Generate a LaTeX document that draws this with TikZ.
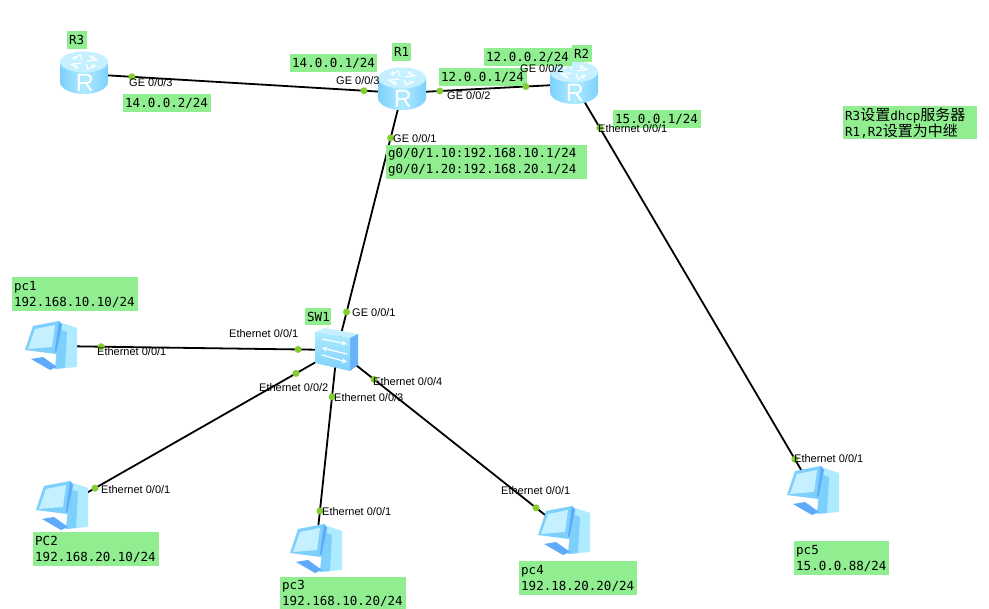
\documentclass[tikz,border=0pt]{standalone}
\usepackage{fontspec}
\setsansfont{Liberation Sans}
\setmonofont{DejaVu Sans Mono}
\newfontfamily\cjk{Noto Sans CJK SC}
\usetikzlibrary{positioning}
\usetikzlibrary{arrows}
\definecolor{boxgreen}{RGB}{144,238,144}
\definecolor{portgreen}{RGB}{132,204,50}
\definecolor{iconedge}{RGB}{125,208,252}
\definecolor{iconmid}{RGB}{175,235,255}
\definecolor{icontop}{RGB}{196,240,255}
\definecolor{icondark}{RGB}{95,170,250}
\tikzset{
  link/.style={line width=1.8pt, black},
  portdot/.style={circle, fill=portgreen, inner sep=0pt, minimum size=7pt},
  port/.style={anchor=west, inner sep=0pt, font=\sffamily\fontsize{11}{12}\selectfont},
  addr/.style 2 args={anchor=north west, fill=boxgreen, inner xsep=2pt, inner ysep=0pt,
    text width=#1pt-4pt, minimum height=#2pt, align=left,
    font=\ttfamily\fontsize{12.5}{16}\selectfont},
  pics/routericon/.style={code={
    \path[left color=iconedge, right color=iconedge, middle color=iconmid]
      (-24,-12) -- (-24,8) arc[start angle=180, end angle=0, x radius=24, y radius=12]
      -- (24,-12) -- cycle;
    \path[fill=icontop] (0,-12) ellipse[x radius=24, y radius=10.5];
    \foreach \a in {0,90,180,270}
      \draw[white, line width=1.2pt, ->, >=stealth, shift={(0,-12)}, yscale=.55, rotate=\a]
        (2,3) -- (4,13) -- (12,5);
    \node[white, font=\sffamily\fontsize{25}{25}\selectfont, inner sep=0pt] at (1,9) {R};
  }},
  pics/switchicon/.style={code={
    \path[fill=icontop] (-22,-18) -- (-12,-22) -- (21,-16) -- (13,-12) -- cycle;
    \path[fill=icondark!75!iconedge] (13,-12) -- (21,-16) -- (21,15) -- (13,21) -- cycle;
    \path[top color=iconmid, bottom color=iconedge] (-22,-18) -- (13,-12) -- (13,21) -- (-22,13) -- cycle;
    \draw[white, line width=1.2pt, ->, >=stealth] (-15,-11) -- (10,-6);
    \draw[white, line width=1.2pt, ->, >=stealth] (10,4) -- (-15,-2);
    \draw[white, line width=1.2pt, ->, >=stealth] (-15,5) -- (10,12);
  }},
  pics/pcicon/.style={code={
    \path[fill=iconmid] (8,-23) -- (26,-17) -- (26,22) -- (4,24) -- cycle;
    \path[fill=iconedge] (8,-16) -- (16,-13) -- (14,23) -- (4,24) -- cycle;
    \path[fill=icondark] (-20,14) -- (-1,25) -- (6,22) -- (-8,12) -- cycle;
    \path[fill=iconedge] (-18,-19) -- (8,-24) -- (11,-20) -- (5,9) -- (-26,5) -- cycle;
    \path[fill=icontop] (-16,-16) -- (4,-20) -- (1,2) -- (-23,4) -- cycle;
    \path[fill=icondark] (8,-24) -- (11,-20) -- (5,9) -- (4,5) -- cycle;
  }}
}

\begin{document}
\begin{tikzpicture}[x=1pt, y=-1pt]
    \useasboundingbox[fill=white] (0,0) rectangle (989,609);

    % devices
    \coordinate (R3) at (85,74);
    \coordinate (R1) at (402,93);
    \coordinate (R2) at (574,84);
    \coordinate (SW1) at (337,350);
    \coordinate (pc1) at (51,346);
    \coordinate (PC2) at (62,507);
    \coordinate (pc3) at (316,548);
    \coordinate (pc4) at (564,530);
    \coordinate (pc5) at (813,490);

    % draw links
    \draw[link] (R3) -- coordinate[pos=.148] (d1) coordinate[pos=.88] (d2) (R1);
    \draw[link] (R1) -- coordinate[pos=.22] (d3) coordinate[pos=.72] (d4) (R2);
    \draw[link] (R1) -- coordinate[pos=.175] (d5) coordinate[pos=.852] (d6) (SW1);
    \draw[link] (R2) -- coordinate[pos=.108] (d7) coordinate[pos=.924] (d8) (pc5);
    \draw[link] (SW1) -- coordinate[pos=.136] (d9) coordinate[pos=.825] (d10) (pc1);
    \draw[link] (SW1) -- coordinate[pos=.149] (d11) coordinate[pos=.88] (d12) (PC2);
    \draw[link] (SW1) -- coordinate[pos=.237] (d13) coordinate[pos=.813] (d14) (pc3);
    \draw[link] (SW1) -- coordinate[pos=.163] (d15) coordinate[pos=.877] (d16) (pc4);

    % draw icons
    \pic at (84,74) {routericon};
    \pic at (402,90) {routericon};
    \pic at (574,84) {routericon};
    \pic at (337,350) {switchicon};
    \pic at (51,345) {pcicon};
    \pic at (62,505) {pcicon};
    \pic at (316,548) {pcicon};
    \pic at (564,530) {pcicon};
    \pic at (813,490) {pcicon};

    % draw address boxes
    \node[addr={20}{18}] (nameR3) at (67,31) {R3};
    \node[addr={19}{18}] (nameR1) at (392,43) {R1};
    \node[addr={20}{17}] (nameR2) at (572,45) {R2};
    \node[addr={26}{17}] (nameSW1) at (305,308) {SW1};
    \node[addr={88}{18}] (addrR3) at (123,94) {14.0.0.2/24};
    \node[addr={87}{18}] (addrR1a) at (290,54) {14.0.0.1/24};
    \node[addr={88}{18}] (addrR2a) at (484,48) {12.0.0.2/24};
    \node[addr={88}{18}] (addrR1b) at (439,68) {12.0.0.1/24};
    \node[addr={88}{18}] (addrR2b) at (613,110) {15.0.0.1/24};
    \node[addr={201}{34}] (addrR1c) at (386,145) {g0/0/1.10:192.168.10.1/24\\g0/0/1.20:192.168.20.1/24};
    \node[addr={126}{34}] (addrpc1) at (12,277) {pc1\\192.168.10.10/24};
    \node[addr={126}{34}] (addrPC2) at (33,532) {PC2\\192.168.20.10/24};
    \node[addr={126}{32}] (addrpc3) at (280,577) {pc3\\192.168.10.20/24};
    \node[addr={118}{34}] (addrpc4) at (519,561) {pc4\\192.18.20.20/24};
    \node[addr={95}{34}] (addrpc5) at (794,541) {pc5\\15.0.0.88/24};
    \node[addr={134}{33}] (note) at (843,106) {R3{\cjk\fontsize{15}{16}\selectfont 设置}dhcp{\cjk\fontsize{15}{16}\selectfont 服务器}\\R1,R2{\cjk\fontsize{15}{16}\selectfont 设置为中继}};

    % draw ports
    \foreach \d in {d1,d2,d3,d4,d5,d6,d7,d8,d9,d10,d11,d12,d13,d14,d15,d16}
      \node[portdot] (dot\d) at (\d) {};

    % draw port names
    \node[port] (p1) at (129,83) {GE 0/0/3};
    \node[port] (p2) at (336,81) {GE 0/0/3};
    \node[port] (p3) at (447,96) {GE 0/0/2};
    \node[port] (p4) at (520,69) {GE 0/0/2};
    \node[port] (p5) at (598,129) {Ethernet 0/0/1};
    \node[port] (p6) at (393,139) {GE 0/0/1};
    \node[port] (p7) at (352,313) {GE 0/0/1};
    \node[port] (p8) at (229,334) {Ethernet 0/0/1};
    \node[port] (p9) at (97,352) {Ethernet 0/0/1};
    \node[port] (p10) at (259,388) {Ethernet 0/0/2};
    \node[port] (p11) at (334,398) {Ethernet 0/0/3};
    \node[port] (p12) at (373,382) {Ethernet 0/0/4};
    \node[port] (p13) at (101,490) {Ethernet 0/0/1};
    \node[port] (p14) at (322,512) {Ethernet 0/0/1};
    \node[port] (p15) at (501,491) {Ethernet 0/0/1};
    \node[port] (p16) at (794,459) {Ethernet 0/0/1};
\end{tikzpicture}
\end{document}
